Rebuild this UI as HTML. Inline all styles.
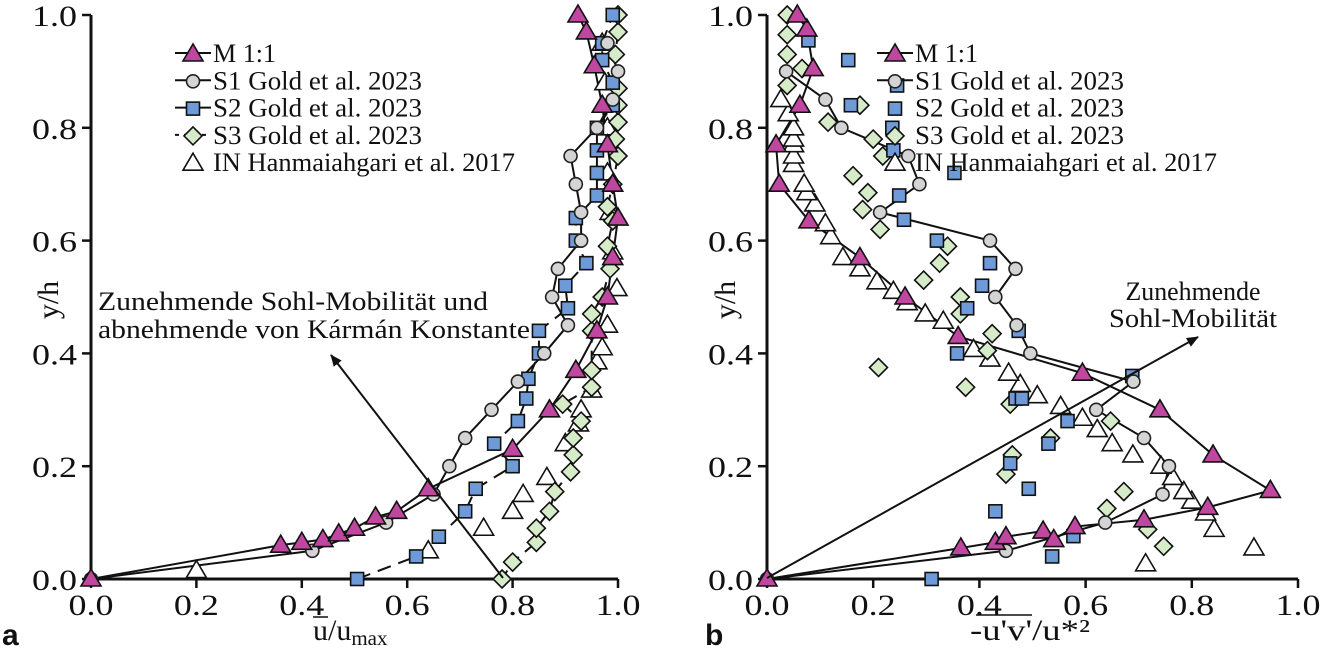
<!DOCTYPE html>
<html><head><meta charset="utf-8"><style>
body{margin:0;background:#fff;}
svg{display:block;}
svg text{font-family:"Liberation Serif","DejaVu Serif",serif;}
svg text.sans{font-family:"Liberation Sans","DejaVu Sans",sans-serif;}
</style></head><body>
<svg id="chart" width="1323" height="649" viewBox="0 0 1323 649" xmlns="http://www.w3.org/2000/svg" font-family="Liberation Serif, serif">
<g id="panels"></g>
</svg>
<script>
// ---- Panel a data (x = u/umax, y = y/h)
const aM = [[0,0],[0.36,0.06],[0.40,0.065],[0.44,0.07],[0.47,0.08],[0.50,0.09],[0.54,0.11],[0.58,0.12],[0.64,0.16],[0.80,0.23],[0.87,0.30],[0.92,0.37],[0.96,0.44],[0.98,0.50],[0.99,0.57],[1.0,0.64],[0.99,0.70],[0.98,0.77],[0.97,0.84],[0.955,0.91],[0.94,0.97],[0.924,1.0]];
const aS1 = [[0,0],[0.42,0.05],[0.56,0.10],[0.65,0.15],[0.68,0.20],[0.71,0.25],[0.76,0.30],[0.81,0.35],[0.86,0.40],[0.905,0.45],[0.875,0.50],[0.886,0.55],[0.93,0.60],[0.93,0.65],[0.92,0.70],[0.91,0.75],[0.96,0.80],[0.99,0.85],[1.0,0.90],[0.98,0.95]];
const aS2 = [[0.505,0],[0.617,0.04],[0.66,0.075],[0.71,0.12],[0.73,0.16],[0.80,0.20],[0.765,0.24],[0.81,0.28],[0.826,0.32],[0.83,0.355],[0.85,0.40],[0.85,0.44],[0.905,0.48],[0.90,0.52],[0.94,0.56],[0.92,0.60],[0.92,0.64],[0.96,0.68],[0.96,0.72],[0.96,0.76],[0.96,0.80],[0.99,0.84],[0.99,0.88],[0.97,0.92],[0.97,0.95],[0.99,1.0]];
const aS3 = [[0.78,0],[0.80,0.03],[0.845,0.065],[0.845,0.09],[0.87,0.12],[0.88,0.155],[0.91,0.19],[0.915,0.22],[0.915,0.25],[0.93,0.28],[0.895,0.31],[0.95,0.34],[0.95,0.37],[0.95,0.44],[0.95,0.47],[0.97,0.50],[0.985,0.55],[0.98,0.59],[0.99,0.635],[0.98,0.66],[0.99,0.70],[1.0,0.75],[0.995,0.78],[1.0,0.81],[1.0,0.84],[1.0,0.87],[0.995,0.93],[1.0,0.97],[1.0,1.0]];
const aIN = [[0.2,0.015],[0.64,0.05],[0.745,0.09],[0.80,0.12],[0.82,0.15],[0.865,0.18],[0.90,0.24],[0.925,0.275],[0.93,0.30],[0.95,0.335],[0.96,0.385],[0.97,0.41],[0.98,0.45],[0.998,0.515],[0.99,0.58],[0.985,0.65],[0.98,0.72],[0.98,0.80],[0.975,0.88],[0.97,0.95]];
// ---- Panel b data (x = -u'v'/u*^2, y = y/h)
const bM = [[0,0],[0.365,0.055],[0.43,0.065],[0.45,0.075],[0.52,0.085],[0.54,0.07],[0.58,0.093],[0.71,0.105],[0.83,0.127],[0.948,0.157],[0.84,0.22],[0.74,0.30],[0.594,0.365],[0.36,0.43],[0.26,0.50],[0.175,0.57],[0.079,0.635],[0.023,0.70],[0.017,0.77],[0.062,0.84],[0.087,0.905],[0.075,0.975],[0.057,1.0]];
const bS1 = [[0,0],[0.45,0.05],[0.637,0.10],[0.745,0.15],[0.757,0.20],[0.71,0.25],[0.62,0.30],[0.69,0.35],[0.496,0.40],[0.47,0.45],[0.43,0.50],[0.468,0.55],[0.42,0.60],[0.213,0.65],[0.287,0.70],[0.266,0.75],[0.14,0.80],[0.11,0.85],[0.036,0.90]];
const bS2 = [[0.31,0],[0.537,0.04],[0.577,0.076],[0.43,0.12],[0.493,0.16],[0.458,0.205],[0.53,0.24],[0.566,0.28],[0.468,0.32],[0.48,0.32],[0.688,0.36],[0.358,0.40],[0.474,0.44],[0.377,0.48],[0.405,0.52],[0.42,0.56],[0.32,0.60],[0.258,0.637],[0.249,0.68],[0.353,0.72],[0.238,0.76],[0.236,0.80],[0.158,0.84],[0.245,0.875],[0.153,0.92],[0.078,0.955]];
const bS3 = [[0.747,0.058],[0.717,0.088],[0.64,0.125],[0.672,0.155],[0.45,0.186],[0.462,0.22],[0.534,0.25],[0.647,0.28],[0.458,0.31],[0.374,0.34],[0.21,0.375],[0.415,0.405],[0.424,0.435],[0.364,0.47],[0.364,0.50],[0.295,0.53],[0.325,0.56],[0.34,0.59],[0.213,0.62],[0.18,0.655],[0.19,0.685],[0.162,0.715],[0.218,0.75],[0.20,0.78],[0.115,0.81],[0.175,0.84],[0.038,0.875],[0.066,0.905],[0.038,0.93],[0.038,0.965],[0.038,1.0]];
const bIN = [[0.713,0.027],[0.917,0.055],[0.842,0.088],[0.826,0.117],[0.80,0.138],[0.785,0.155],[0.764,0.18],[0.742,0.20],[0.689,0.22],[0.65,0.24],[0.622,0.265],[0.594,0.285],[0.553,0.306],[0.509,0.325],[0.477,0.345],[0.455,0.365],[0.42,0.39],[0.389,0.407],[0.332,0.457],[0.298,0.47],[0.264,0.49],[0.238,0.51],[0.207,0.527],[0.175,0.55],[0.143,0.57],[0.12,0.607],[0.11,0.63],[0.09,0.665],[0.075,0.685],[0.07,0.70],[0.05,0.735],[0.05,0.75],[0.05,0.77],[0.05,0.78],[0.05,0.80],[0.04,0.825],[0.026,0.85]];
const xTicks = ["0.0","0.2","0.4","0.6","0.8","1.0"];
const yTicks = ["0.0","0.2","0.4","0.6","0.8","1.0"];
const tickVals = [0,0.2,0.4,0.6,0.8,1.0];
const legendLabels = ["M 1:1","S1 Gold et al. 2023","S2 Gold et al. 2023","S3 Gold et al. 2023","IN Hanmaiahgari et al. 2017"];
const legendWidths = [63,209,209,209,302];

const NS="http://www.w3.org/2000/svg";
const root=document.getElementById('panels');
function mk(tag,attrs,parent){const e=document.createElementNS(NS,tag);for(const k in attrs)e.setAttribute(k,attrs[k]);(parent||root).appendChild(e);return e;}

function marker(type,cx,cy,g){
  let e;
  if(type==='tri'){e=mk('polygon',{points:`${cx},${cy-10} ${cx-10},${cy+7} ${cx+10},${cy+7}`,fill:'#c0479f',stroke:'#111','stroke-width':1.6},g);}
  else if(type==='circ'){e=mk('circle',{cx:cx,cy:cy,r:6.5,fill:'#d4d4d4',stroke:'#222','stroke-width':1.6},g);}
  else if(type==='sq'){e=mk('rect',{x:cx-6.5,y:cy-6.5,width:13,height:13,fill:'#6f9ad8',stroke:'#111','stroke-width':1.6},g);}
  else if(type==='dia'){e=mk('polygon',{points:`${cx},${cy-9} ${cx+9},${cy} ${cx},${cy+9} ${cx-9},${cy}`,fill:'#d6ecc8',stroke:'#111','stroke-width':1.6},g);}
  else {e=mk('polygon',{points:`${cx},${cy-10} ${cx-10},${cy+7} ${cx+10},${cy+7}`,fill:'#fff',stroke:'#111','stroke-width':1.6},g);}
  return e;
}

function drawPanel(p){
  const g=mk('g',{});
  
  
  const X=v=>p.x0+v*(p.x1-p.x0), Y=v=>p.y0+v*(p.y1-p.y0);
  const ax=mk('path',{d:`M${p.x0},${p.y1} V${p.y0} H${p.x1}`,stroke:'#111','stroke-width':3,fill:'none'},g);
  
  
  tickVals.forEach((t,i)=>{
    mk('line',{x1:X(t),x2:X(t),y1:p.y0,y2:p.y0+9,stroke:'#111','stroke-width':2.5},g);
    mk('line',{x1:p.x0-9,x2:p.x0,y1:Y(t),y2:Y(t),stroke:'#111','stroke-width':2.5},g);
    const tx=mk('text',{x:X(t),y:p.y0+36,'font-size':30,'text-anchor':'middle',fill:'#111',textLength:45,lengthAdjust:'spacingAndGlyphs'},g);
    tx.textContent=xTicks[i];
    
    
    const ty=mk('text',{x:p.x0-14,y:Y(t)+11,'font-size':30,'text-anchor':'end',fill:'#111',textLength:45,lengthAdjust:'spacingAndGlyphs'},g);
    ty.textContent=yTicks[i];
    
    
  });
  const line=(arr,dash)=>mk('polyline',{points:arr.map(d=>X(d[0])+','+Y(d[1])).join(' '),fill:'none',stroke:'#111','stroke-width':2,'stroke-dasharray':dash||'none'},g);
  if(p.s1line){const l=line(p.S1);}
  if(p.s2line){const l=line(p.S2,'14,8');}
  if(p.s3line){const l=line(p.S3,'10,8');}
  const lm=line(p.M);
  const pts=(arr,type,name)=>arr.forEach(d=>{const e=marker(type,X(d[0]),Y(d[1]),g);
    
    });
  pts(p.IN,'open',p.id+'-in-point');
  pts(p.S3,'dia',p.id+'-s3-point');
  pts(p.S2,'sq',p.id+'-s2-point');
  pts(p.S1,'circ',p.id+'-s1-point');
  pts(p.M,'tri',p.id+'-m-point');
  const types=['tri','circ','sq','dia','open'];
  legendLabels.forEach((lab,i)=>{
    const ly=p.ly+i*27.3, lx=p.lx;
    if(p.legLines[i]===1) mk('line',{x1:lx-18,x2:lx+18,y1:ly,y2:ly,stroke:'#111','stroke-width':2},g);
    if(p.legLines[i]===2) mk('line',{x1:lx-18,x2:lx+18,y1:ly,y2:ly,stroke:'#111','stroke-width':2,'stroke-dasharray':'4,5'},g);
    const m=marker(types[i],lx,ly+1,g);
    
    
    const t=mk('text',{x:lx+20,y:ly+9,'font-size':26,fill:'#111',textLength:legendWidths[i],lengthAdjust:'spacingAndGlyphs'},g);
    t.textContent=lab;
    
    
  });
  return g;
}

drawPanel({id:'a',x0:91,x1:618,y0:579,y1:15,M:aM,S1:aS1,S2:aS2,S3:aS3,IN:aIN,s1line:true,s2line:true,s3line:true,lx:193,ly:53,legLines:[1,1,1,2,0]});
drawPanel({id:'b',x0:767,x1:1298,y0:579,y1:15,M:bM,S1:bS1,S2:bS2,S3:bS3,IN:bIN,s1line:true,s2line:false,s3line:false,lx:895,ly:53,legLines:[1,1,0,0,0]});

const defs=mk('defs',{});
const mkr=mk('marker',{id:'ah',markerWidth:12,markerHeight:10,refX:11,refY:5,orient:'auto',markerUnits:'userSpaceOnUse'},defs);
mk('path',{d:'M0,0 L12,5 L0,10 z',fill:'#111'},mkr);
const ar1=mk('line',{x1:503,y1:578,x2:331,y2:355,stroke:'#111','stroke-width':2,'marker-end':'url(#ah)'});


const ar2=mk('line',{x1:767,y1:578,x2:1198,y2:337,stroke:'#111','stroke-width':2,'marker-end':'url(#ah)'});


function txt(x,y,s,size,name,anchor,extra){const t=mk('text',Object.assign({x:x,y:y,'font-size':size,fill:'#111','text-anchor':anchor||'start'},extra||{}));t.textContent=s;
  
  return t;}
const fit=(w)=>({textLength:w,lengthAdjust:'spacingAndGlyphs'});
txt(98,310,'Zunehmende Sohl-Mobilität und',26,'annotation-text-a','start',fit(390));
txt(98,338,'abnehmende von Kármán Konstante',26,'annotation-text-a','start',fit(432));
txt(1193,300,'Zunehmende',26,'annotation-text-b','middle',fit(135));
txt(1193,327,'Sohl-Mobilität',26,'annotation-text-b','middle',fit(168));
txt(58,300,'y/h',30,'y-axis-title-a','middle',{transform:'rotate(-90 58 300)'});
txt(735,300,'y/h',30,'y-axis-title-b','middle',{transform:'rotate(-90 735 300)'});
const xa=txt(313,640,'u',30,'x-axis-title-a');
mk('tspan',{}, xa).textContent='/u';
const sub=mk('tspan',{'font-size':21,dy:5},xa);sub.textContent='max';
mk('line',{x1:313,x2:328,y1:617,y2:617,stroke:'#111','stroke-width':1.5});
txt(1030,640,"-u'v'/u*²",30,'x-axis-title-b','middle',fit(120));
mk('line',{x1:976,x2:1032,y1:615,y2:615,stroke:'#111','stroke-width':1.5});
txt(2,645,'a',30,'panel-label-a','start',{'class':'sans','font-weight':'bold'});
txt(705,645,'b',30,'panel-label-b','start',{'class':'sans','font-weight':'bold'});
</script>
</body></html>
